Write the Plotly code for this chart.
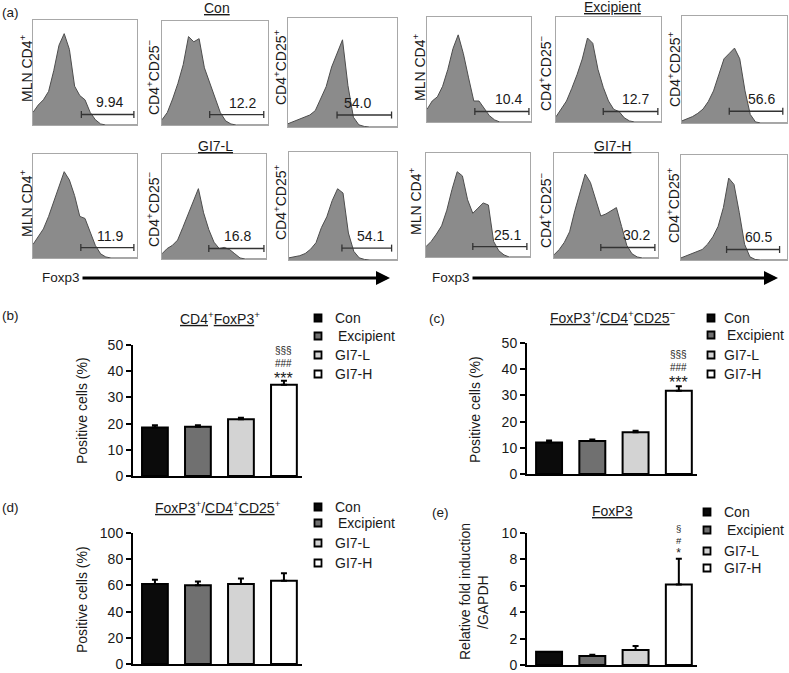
import plotly.graph_objects as go

W, H = 789, 673
FONT = "Liberation Sans, Arial, Helvetica, sans-serif"

# ---------------- data ----------------
groups = ["Con", "Excipient", "GI7-L", "GI7-H"]

# (b) CD4+FoxP3+ (% positive cells)
cd4_foxp3_mean = [18.5, 18.8, 21.7, 34.8]
cd4_foxp3_err = [0.9, 0.6, 0.5, 1.6]
# (c) FoxP3+/CD4+CD25-
cd25neg_mean = [12.0, 12.6, 15.9, 31.8]
cd25neg_err = [0.8, 0.6, 0.6, 1.7]
# (d) FoxP3+/CD4+CD25+
cd25pos_mean = [61.0, 60.1, 61.0, 63.5]
cd25pos_err = [3.3, 2.8, 4.3, 5.8]
# (e) FoxP3 relative fold induction / GAPDH
foxp3_fold_mean = [1.0, 0.68, 1.13, 6.1]
foxp3_fold_err = [0.0, 0.1, 0.3, 1.95]

sig_b = ["§§§", "###", "***"]
sig_c = ["§§§", "###", "***"]
sig_e = ["§", "#", "*"]

# (a) Foxp3 histograms: relative counts at each Foxp3 bin
foxp3_bins = [0.00, 0.05, 0.10, 0.15, 0.20, 0.25, 0.30, 0.35, 0.40, 0.45, 0.50,
              0.55, 0.60, 0.65, 0.70, 0.75, 0.80, 0.85, 0.90, 0.95, 1.00]
hist_con_mln = [0.12, 0.19, 0.24, 0.32, 0.52, 0.76, 0.87, 0.72, 0.37, 0.28, 0.24,
                0.12, 0.05, 0.01, 0, 0, 0, 0, 0, 0, 0]
hist_con_cd25neg = [0.05, 0.12, 0.25, 0.40, 0.58, 0.85, 0.80, 0.83, 0.55, 0.40, 0.25,
                    0.12, 0.04, 0.01, 0, 0, 0, 0, 0, 0, 0]
hist_con_cd25pos = [0.03, 0.05, 0.07, 0.09, 0.11, 0.15, 0.26, 0.37, 0.55, 0.68, 0.80,
                    0.38, 0.09, 0.02, 0.005, 0, 0, 0, 0, 0, 0]
hist_exc_mln = [0.12, 0.20, 0.24, 0.34, 0.50, 0.70, 0.83, 0.65, 0.42, 0.20, 0.20,
                0.13, 0.06, 0.02, 0, 0, 0, 0, 0, 0, 0]
hist_exc_cd25neg = [0.05, 0.12, 0.20, 0.32, 0.45, 0.60, 0.80, 0.75, 0.50, 0.33, 0.20,
                    0.12, 0.10, 0.04, 0.01, 0, 0, 0, 0, 0, 0]
hist_exc_cd25pos = [0.02, 0.04, 0.06, 0.09, 0.13, 0.20, 0.30, 0.45, 0.60, 0.65, 0.70,
                    0.60, 0.30, 0.08, 0.01, 0, 0, 0, 0, 0, 0]
hist_l_mln = [0.13, 0.20, 0.28, 0.40, 0.55, 0.68, 0.83, 0.75, 0.60, 0.40, 0.38,
              0.25, 0.12, 0.04, 0.01, 0, 0, 0, 0, 0, 0]
hist_l_cd25neg = [0.05, 0.10, 0.13, 0.18, 0.30, 0.43, 0.56, 0.67, 0.44, 0.28, 0.16,
                  0.10, 0.11, 0.09, 0.05, 0.01, 0, 0, 0, 0, 0]
hist_l_cd25pos = [0.02, 0.03, 0.04, 0.06, 0.10, 0.16, 0.30, 0.40, 0.55, 0.66, 0.62,
                  0.25, 0.08, 0.02, 0.005, 0, 0, 0, 0, 0, 0]
hist_h_mln = [0.10, 0.15, 0.22, 0.30, 0.45, 0.65, 0.82, 0.78, 0.55, 0.42, 0.47,
              0.52, 0.50, 0.15, 0.06, 0.02, 0, 0, 0, 0, 0]
hist_h_cd25neg = [0.03, 0.08, 0.15, 0.25, 0.45, 0.62, 0.80, 0.72, 0.55, 0.40, 0.42,
                  0.45, 0.48, 0.30, 0.12, 0.04, 0.01, 0, 0, 0, 0]
hist_h_cd25pos = [0.02, 0.04, 0.06, 0.08, 0.10, 0.15, 0.22, 0.32, 0.50, 0.78, 0.72,
                  0.45, 0.15, 0.03, 0.005, 0, 0, 0, 0, 0, 0]

# gated % Foxp3+ and gate limits (Foxp3 bin units)
gate_pct = ["9.94", "12.2", "54.0", "10.4", "12.7", "56.6",
            "11.9", "16.8", "54.1", "25.1", "30.2", "60.5"]
gate_lo = [0.465, 0.45, 0.45, 0.46, 0.45, 0.45, 0.46, 0.45, 0.49, 0.45, 0.45, 0.43]
gate_hi = [0.97, 0.96, 0.95, 0.98, 0.97, 0.96, 0.97, 0.98, 0.95, 0.97, 0.97, 0.93]
gate_level = [0.10, 0.10, 0.11, 0.10, 0.10, 0.11, 0.10, 0.10, 0.11, 0.10, 0.10, 0.10]

hist_series = [hist_con_mln, hist_con_cd25neg, hist_con_cd25pos,
               hist_exc_mln, hist_exc_cd25neg, hist_exc_cd25pos,
               hist_l_mln, hist_l_cd25neg, hist_l_cd25pos,
               hist_h_mln, hist_h_cd25neg, hist_h_cd25pos]
pop_labels = ["MLN CD4<sup>+</sup>", "CD4<sup>+</sup>CD25<sup>−</sup>", "CD4<sup>+</sup>CD25<sup>+</sup>"]

# ---------------- layout geometry (pixels) ----------------
hist_boxes = [(33, 137, 20, 125), (162, 268, 21, 125), (288, 397, 18, 127),
              (427, 531, 17, 122), (556, 661, 17, 122), (682, 787, 16, 123),
              (33, 137, 154, 258), (162, 266, 154, 259), (289, 397, 152, 260),
              (426, 530, 153, 257), (554, 658, 153, 258), (681, 787, 155, 260)]
pop_label_pos = [(26, 69), (153, 77), (280, 67), (419, 67), (545, 73), (674, 69),
                 (26, 204), (153, 209), (280, 202), (415, 202), (545, 210), (673, 205)]
pct_label_x = [0.74, 0.76, 0.64, 0.78, 0.76, 0.76, 0.74, 0.73, 0.75, 0.78, 0.79, 0.73]

def dx(x0, x1):
    return [x0 / W, x1 / W]

def dy(top, bottom):
    return [1 - bottom / H, 1 - top / H]

def px(x):
    return x / W

def py(y):
    return 1 - y / H

def txt_at(x, y, text, size=14, angle=0, xanchor="center", yanchor="middle"):
    return dict(x=px(x), y=py(y), xref="paper", yref="paper", text=text, textangle=angle,
                xanchor=xanchor, yanchor=yanchor, showarrow=False,
                font=dict(size=size, color="#1a1a1a"))

fig = go.Figure()
layout = dict(
    width=W, height=H, margin=dict(l=0, r=0, t=0, b=0, autoexpand=False),
    paper_bgcolor="white", plot_bgcolor="rgba(0,0,0,0)",
    font=dict(family=FONT, size=14, color="#1a1a1a"),
    barmode="overlay", showlegend=False,
)
annotations = []
shapes = []

# ---------------- histograms ----------------
for i, (series, box) in enumerate(zip(hist_series, hist_boxes)):
    k = i + 1
    xa, ya = f"x{k}", f"y{k}"
    x0, x1, top, bottom = box
    layout[f"xaxis{k}"] = dict(domain=dx(x0, x1), range=[0, 1], anchor=ya,
                               showline=True, mirror=True, linecolor="#a8a8a8", linewidth=1.3,
                               showgrid=False, zeroline=False, showticklabels=False, ticks="",
                               fixedrange=True)
    layout[f"yaxis{k}"] = dict(domain=dy(top, bottom), range=[0, 1], anchor=xa,
                               showline=True, mirror=True, linecolor="#a8a8a8", linewidth=1.3,
                               showgrid=False, zeroline=False, showticklabels=False, ticks="",
                               fixedrange=True)
    fig.add_trace(go.Scatter(x=foxp3_bins, y=series, xaxis=xa, yaxis=ya, mode="lines",
                             fill="tozeroy", fillcolor="#8b8b8b",
                             line=dict(color="#4d4d4d", width=1), showlegend=False,
                             hoverinfo="skip"))
    fig.add_trace(go.Scatter(x=[gate_lo[i], gate_hi[i]], y=[gate_level[i], gate_level[i]],
                             xaxis=xa, yaxis=ya, mode="lines+markers",
                             line=dict(color="#333333", width=1.3),
                             marker=dict(symbol="line-ns-open", size=5,
                                         line=dict(color="#333333", width=1.3)),
                             showlegend=False, hoverinfo="skip"))
    annotations.append(dict(x=pct_label_x[i], y=gate_level[i] + 0.02, xref=xa, yref=ya,
                            text=gate_pct[i], showarrow=False, xanchor="center", yanchor="bottom",
                            font=dict(size=14, color="#1a1a1a")))
    lx, ly = pop_label_pos[i]
    annotations.append(txt_at(lx, ly, pop_labels[i % 3], size=14, angle=-90))

# group titles of (a)
for t, (x, y) in [("Con", (217, 8)), ("Excipient", (612, 7)),
                  ("GI7-L", (215, 146)), ("GI7-H", (612, 146))]:
    annotations.append(txt_at(x, y, f"<u>{t}</u>", size=14))

# Foxp3 arrows
for tx, a0, a1 in [(61, 81, 390), (451, 471, 778)]:
    annotations.append(txt_at(tx, 277, "Foxp3", size=13.5))
    annotations.append(dict(x=px(a1), y=py(278), xref="paper", yref="paper", text="",
                            showarrow=True, ax=-(a1 - a0), ay=0, arrowhead=2, arrowsize=1,
                            arrowwidth=2.8, arrowcolor="#000000"))

# ---------------- bar charts ----------------
bar_colors = ["#0b0b0b", "#707070", "#d3d3d3", "#ffffff"]
bar_panels = [
    dict(mean=cd4_foxp3_mean, err=cd4_foxp3_err, xd=(133, 302), yd=(345, 476), yr=[0, 50], dt=10,
         title="<u>CD4</u><sup>+</sup><u>FoxP3</u><sup>+</sup>", tpos=(220, 318),
         lgx=(318, 333), lgy=[318, 336, 355, 374], sig=sig_b, sig_top=45.6, sig_star=37.4),
    dict(mean=cd25neg_mean, err=cd25neg_err, xd=(527, 697), yd=(343, 474), yr=[0, 50], dt=10,
         title="<u>FoxP3</u><sup>+</sup>/<u>CD4</u><sup>+</sup><u>CD25</u><sup>−</sup>", tpos=(613, 317),
         lgx=(711, 722), lgy=[318, 335, 355, 374], sig=sig_c, sig_top=43.0, sig_star=35.0),
    dict(mean=cd25pos_mean, err=cd25pos_err, xd=(133, 302), yd=(533, 664), yr=[0, 100], dt=20,
         title="<u>FoxP3</u><sup>+</sup>/<u>CD4</u><sup>+</sup><u>CD25</u><sup>+</sup>", tpos=(218, 507),
         lgx=(318, 333), lgy=[507, 523, 543, 563], sig=None),
    dict(mean=foxp3_fold_mean, err=foxp3_fold_err, xd=(527, 697), yd=(533, 665), yr=[0, 10], dt=2,
         title="<u>FoxP3</u>", tpos=(612, 511),
         lgx=(707, 722), lgy=[512, 530, 551, 568], sig=sig_e, sig_top=9.35, sig_star=None),
]

for j, p in enumerate(bar_panels):
    k = 13 + j
    xa, ya = f"x{k}", f"y{k}"
    layout[f"xaxis{k}"] = dict(domain=dx(*p["xd"]), range=[-0.51, 3.42], anchor=ya,
                               type="category", categoryorder="array", categoryarray=groups,
                               showline=True, linecolor="#000000", linewidth=2,
                               showgrid=False, zeroline=False, showticklabels=False, ticks="",
                               fixedrange=True)
    layout[f"yaxis{k}"] = dict(domain=dy(*p["yd"]), range=p["yr"], dtick=p["dt"], anchor=xa,
                               showline=True, linecolor="#000000", linewidth=2,
                               ticks="outside", ticklen=5, tickwidth=2, tickcolor="#000000",
                               tickfont=dict(size=14, color="#1a1a1a"),
                               showgrid=False, zeroline=False, fixedrange=True)
    for g, name in enumerate(groups):
        fig.add_trace(go.Bar(
            x=[name], y=[p["mean"][g]], xaxis=xa, yaxis=ya, name=name, width=0.6,
            marker=dict(color=bar_colors[g], line=dict(color="#000000", width=2)),
            error_y=dict(type="data", array=[p["err"][g]], arrayminus=[0], symmetric=False,
                         visible=p["err"][g] > 0, color="#000000", thickness=2, width=3),
            showlegend=False, hoverinfo="skip"))
        # legend swatch + label
        sx, tx0 = p["lgx"]
        sy = p["lgy"][g]
        shapes.append(dict(type="rect", xref="paper", yref="paper",
                           x0=px(sx - 3.5), x1=px(sx + 3.5), y0=py(sy + 3.5), y1=py(sy - 3.5),
                           fillcolor=bar_colors[g], line=dict(color="#000000", width=1.8)))
        annotations.append(txt_at(tx0 + (3 if g == 1 else 0), sy, name, size=14,
                                  xanchor="left"))
    tx, ty = p["tpos"]
    annotations.append(txt_at(tx, ty, p["title"], size=14))
    if p["sig"]:
        if p["sig_star"] is None:
            stack = (f"{p['sig'][0]}<br>{p['sig'][1]}<br>"
                     f"<span style='font-size:12px'>{p['sig'][2]}</span>")
            annotations.append(dict(x=3, y=p["sig_top"], xref=xa, yref=ya, text=stack,
                                    showarrow=False, xanchor="center", yanchor="middle",
                                    font=dict(size=9.5, color="#1a1a1a")))
        else:
            annotations.append(dict(x=3, y=p["sig_top"], xref=xa, yref=ya,
                                    text=f"{p['sig'][0]}<br>{p['sig'][1]}",
                                    showarrow=False, xanchor="center", yanchor="middle",
                                    font=dict(size=10, color="#1a1a1a")))
            annotations.append(dict(x=3, y=p["sig_star"], xref=xa, yref=ya, text=p["sig"][2],
                                    showarrow=False, xanchor="center", yanchor="middle",
                                    font=dict(size=16, color="#1a1a1a")))

# y-axis titles
for t, (x, y) in [("Positive cells (%)", (82, 411)), ("Positive cells (%)", (475, 410)),
                  ("Positive cells (%)", (82, 600)), ("Relative fold induction", (465, 592)),
                  ("/GAPDH", (483, 602))]:
    annotations.append(txt_at(x, y, t, size=14, angle=-90))

# panel letters
for t, (x, y) in [("(a)", (0, 12)), ("(b)", (0, 315)), ("(c)", (427, 318)),
                  ("(d)", (0, 507)), ("(e)", (430, 512))]:
    annotations.append(txt_at(x, y, t, size=13.5, xanchor="left"))

layout["annotations"] = annotations
layout["shapes"] = shapes
fig.update_layout(**layout)
fig.write_html("out.html", config={"displayModeBar": False, "staticPlot": True},
               post_script="document.body.style.margin='0';")
